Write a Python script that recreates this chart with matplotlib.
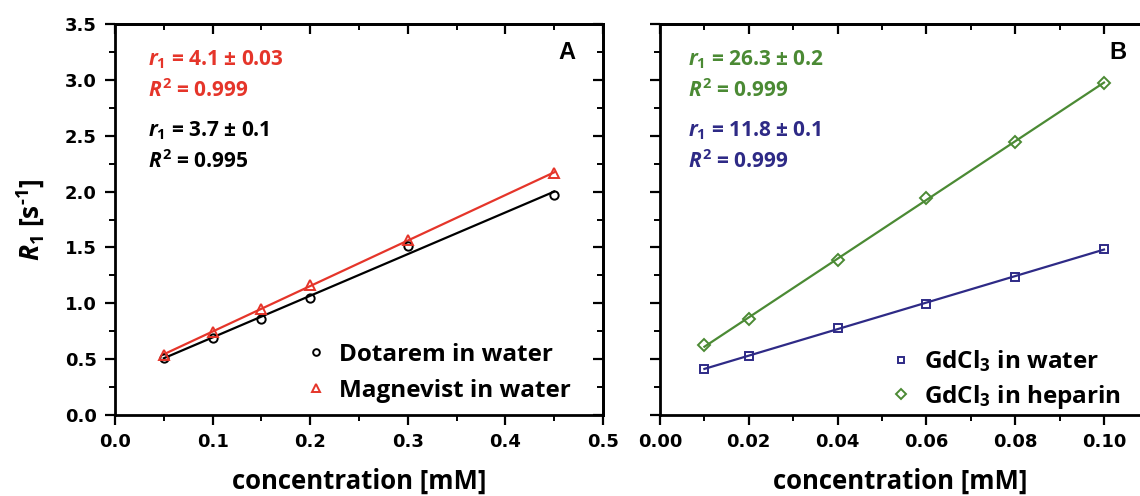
import numpy as np
import matplotlib
matplotlib.use("Agg")
import matplotlib.pyplot as plt
from matplotlib.ticker import MultipleLocator

TXT = "Open Sans"
plt.rcParams["mathtext.fontset"] = "custom"
plt.rcParams["mathtext.rm"] = TXT + ":bold"
plt.rcParams["mathtext.it"] = TXT + ":italic:bold"
plt.rcParams["mathtext.bf"] = TXT + ":bold"

RED = "#e5352a"
GREEN = "#4b8a34"
NAVY = "#2e2a86"

# panel A: Dotarem / Magnevist in water
conc_a = [0.05, 0.10, 0.15, 0.20, 0.30, 0.45]
dotarem = [0.51, 0.69, 0.86, 1.05, 1.515, 1.965]
magnevist = [0.54, 0.745, 0.945, 1.165, 1.57, 2.165]

# panel B: GdCl3 in water / heparin
conc_b = [0.01, 0.02, 0.04, 0.06, 0.08, 0.10]
gd_water = [0.415, 0.53, 0.775, 0.998, 1.235, 1.49]
gd_heparin = [0.625, 0.86, 1.385, 1.945, 2.445, 2.975]

notes_a = [("$r_1$ = 4.1 ± 0.03", "$R^2$ = 0.999", RED),
           ("$r_1$ = 3.7 ± 0.1", "$R^2$ = 0.995", "black")]
notes_b = [("$r_1$ = 26.3 ± 0.2", "$R^2$ = 0.999", GREEN),
           ("$r_1$ = 11.8 ± 0.1", "$R^2$ = 0.999", NAVY)]

TICKFONT = dict(family="DejaVu Sans", weight="bold", size=13)


def fit_line(ax, x, y, color):
    k, b = np.polyfit(x, y, 1)
    xs = np.array([min(x), max(x)])
    ax.plot(xs, k * xs + b, color=color, lw=1.6, zorder=2)


def style_axes(ax, xmajor, xminor, xlim, show_ylabels, right_spine):
    ax.set_xlim(*xlim)
    ax.set_ylim(0, 3.5)
    ax.xaxis.set_major_locator(MultipleLocator(xmajor))
    ax.xaxis.set_minor_locator(MultipleLocator(xminor))
    ax.yaxis.set_major_locator(MultipleLocator(0.5))
    ax.yaxis.set_minor_locator(MultipleLocator(0.25))
    ax.tick_params(which="major", direction="out", length=7, width=1.6, pad=6)
    ax.tick_params(which="minor", direction="out", length=4, width=1.4)
    for sp in ax.spines.values():
        sp.set_linewidth(2.0)
    for lab in ax.get_xticklabels() + ax.get_yticklabels():
        lab.set_fontproperties(TICKFONT)
    if not show_ylabels:
        ax.tick_params(labelleft=False)

    top = ax.secondary_xaxis("top")
    top.xaxis.set_major_locator(MultipleLocator(xmajor))
    top.xaxis.set_minor_locator(MultipleLocator(xminor))
    top.tick_params(which="major", direction="in", length=7, width=1.6, labeltop=False)
    top.tick_params(which="minor", direction="in", length=4, width=1.4)
    top.spines["top"].set_linewidth(2.0)

    if right_spine:
        right = ax.secondary_yaxis("right")
        right.yaxis.set_major_locator(MultipleLocator(0.5))
        right.yaxis.set_minor_locator(MultipleLocator(0.25))
        right.tick_params(which="major", direction="in", length=7, width=1.6, labelright=False)
        right.tick_params(which="minor", direction="in", length=4, width=1.4)
        right.spines["right"].set_linewidth(2.0)
    else:
        ax.spines["right"].set_visible(False)

    ax.set_xlabel("concentration [mM]", fontsize=18.5, fontweight="bold",
                  family=TXT, labelpad=12)


def add_notes(ax, notes, x0):
    ys = [0.908, 0.829, 0.726, 0.647]
    i = 0
    for r_txt, r2_txt, col in notes:
        for t in (r_txt, r2_txt):
            ax.text(x0, ys[i], t, transform=ax.transAxes, color=col,
                    fontsize=15, fontweight="bold", family=TXT,
                    va="center", ha="left")
            i += 1


fig = plt.figure(figsize=(11.4, 4.96), dpi=100)
axA = fig.add_axes([115 / 1140, 81 / 496, 488 / 1140, 391 / 496])
axB = fig.add_axes([660 / 1140, 81 / 496, 480 / 1140, 391 / 496])

# panel A
fit_line(axA, conc_a, dotarem, "black")
fit_line(axA, conc_a, magnevist, RED)
axA.plot(conc_a, dotarem, ls="none", marker="o", ms=6, mfc="none",
         mec="black", mew=1.4, label="Dotarem in water", zorder=3)
axA.plot(conc_a, magnevist, ls="none", marker="^", ms=6.5, mfc="none",
         mec=RED, mew=1.4, label="Magnevist in water", zorder=3)
style_axes(axA, 0.1, 0.05, (0, 0.5), True, True)
axA.set_ylabel("$R_1$ [s$^{\\text{-1}}$]", fontsize=19, family=TXT,
               fontweight="bold", labelpad=13)
add_notes(axA, notes_a, 0.068)
axA.text(0.926, 0.928, "A", transform=axA.transAxes, fontsize=17,
         fontweight="bold", family="Liberation Sans", ha="center", va="center")
axA.legend(loc="lower left", bbox_to_anchor=(0.362, 0.0), frameon=False,
           prop=dict(family=TXT, weight="bold", size=17.5),
           handlelength=1.0, handletextpad=0.45, labelspacing=0.5,
           borderpad=0, markerscale=0.8)

# panel B
fit_line(axB, conc_b, gd_water, NAVY)
fit_line(axB, conc_b, gd_heparin, GREEN)
axB.plot(conc_b, gd_water, ls="none", marker="s", ms=5.5, mfc="none",
         mec=NAVY, mew=1.4, label="GdCl$_3$ in water", zorder=3)
axB.plot(conc_b, gd_heparin, ls="none", marker="D", ms=6, mfc="none",
         mec=GREEN, mew=1.4, label="GdCl$_3$ in heparin", zorder=3)
style_axes(axB, 0.02, 0.01, (0, 480 / 4440), False, False)
add_notes(axB, notes_b, 0.058)
axB.text(0.954, 0.928, "B", transform=axB.transAxes, fontsize=17,
         fontweight="bold", family="Liberation Sans", ha="center", va="center")
axB.legend(loc="lower left", bbox_to_anchor=(0.452, -0.02), frameon=False,
           prop=dict(family=TXT, weight="bold", size=17.5),
           handlelength=1.0, handletextpad=0.45, labelspacing=0.35,
           borderpad=0, markerscale=0.8)

fig.savefig("out.png", dpi=100)
